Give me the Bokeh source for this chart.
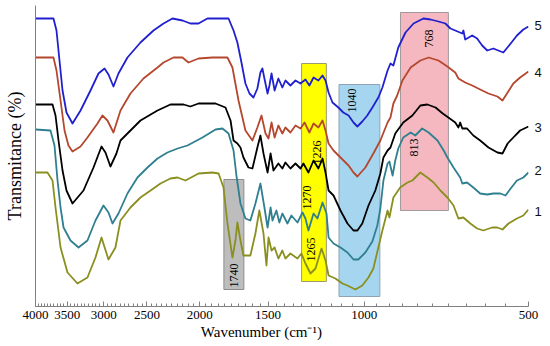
import math
from bokeh.plotting import figure
from bokeh.models import Range1d, FixedTicker, NumeralTickFormatter, ColumnDataSource, LinearAxis
from bokeh.core.properties import value
from bokeh.embed import file_html
from bokeh.resources import INLINE

# ---------------- data (wavenumber cm-1, transmittance in arbitrary stacked units) -------------
WN_1 = [4000, 3803, 3723, 3676, 3599, 3495, 3351, 3213, 3106, 3028, 2940, 2855, 2795, 2680, 2569, 2462, 2361,
        2264, 2197, 2125, 2011, 1896, 1848, 1810, 1780, 1743, 1721, 1707, 1685, 1664, 1616, 1582, 1556, 1529,
        1510, 1497, 1478, 1459, 1436, 1412, 1394, 1365, 1325, 1303, 1281, 1254, 1228, 1197, 1177, 1162, 1129,
        1096, 1073, 1038, 1008, 982, 962, 942, 926, 906, 899, 884, 859, 833, 816, 806, 789, 766, 746, 725, 704,
        686, 672, 658, 639, 621, 605, 583, 570, 558, 544, 525, 511, 500]
T_1 = [134, 134, 126, 99, 59, 34, 23, 29, 49, 69, 47, 59, 86, 99, 109, 116, 123, 128, 129, 126, 133, 134, 133,
       119, 83, 49, 66, 84, 66, 51, 51, 73, 96, 73, 41, 69, 56, 59, 48, 56, 48, 53, 48, 53, 43, 33, 38, 58, 46,
       31, 28, 23, 21, 17, 21, 29, 38, 59, 76, 96, 89, 109, 119, 124, 126, 129, 134, 129, 124, 116, 109, 101,
       88, 89, 83, 78, 76, 79, 79, 77, 83, 88, 91, 97]

WN_2 = [4000, 3755, 3692, 3645, 3599, 3554, 3451, 3336, 3213, 3106, 3003, 2940, 2891, 2819, 2714, 2602, 2494,
        2391, 2293, 2197, 2107, 1978, 1872, 1818, 1772, 1735, 1714, 1685, 1650, 1616, 1582, 1549, 1523, 1503,
        1484, 1472, 1448, 1430, 1412, 1382, 1359, 1325, 1297, 1281, 1265, 1238, 1218, 1192, 1172, 1162, 1138,
        1105, 1073, 1046, 1025, 995, 966, 946, 934, 922, 906, 899, 887, 877, 866, 848, 822, 806, 783, 762, 734,
        715, 704, 686, 667, 661, 648, 631, 613, 595, 580, 563, 551, 539, 525, 511, 500]
T_2 = [177, 176, 161, 126, 99, 79, 66, 59, 66, 86, 101, 94, 83, 93, 113, 129, 139, 148, 154, 158, 161, 169, 177,
       178, 173, 156, 131, 103, 88, 86, 103, 123, 99, 79, 99, 86, 96, 84, 93, 83, 91, 84, 94, 88, 76, 93, 88,
       104, 93, 69, 63, 59, 54, 47, 47, 54, 65, 81, 98, 126, 143, 145, 131, 146, 158, 169, 174, 171, 178, 174,
       166, 156, 149, 139, 129, 123, 124, 119, 113, 112, 113, 113, 111, 118, 126, 129, 134]

WN_3 = [4000, 3723, 3676, 3630, 3569, 3510, 3422, 3267, 3132, 3028, 2978, 2916, 2843, 2795, 2714, 2569, 2391,
        2264, 2142, 2081, 2011, 1872, 1795, 1757, 1735, 1707, 1685, 1664, 1629, 1602, 1569, 1549, 1529, 1503,
        1484, 1466, 1436, 1412, 1394, 1365, 1336, 1308, 1292, 1265, 1238, 1213, 1192, 1177, 1162, 1138, 1105,
        1073, 1046, 1029, 1008, 982, 954, 934, 922, 906, 895, 877, 848, 816, 789, 766, 740, 718, 701, 681, 672,
        667, 661, 648, 631, 613, 592, 570, 558, 546, 533, 518, 500]
T_3 = [202, 202, 191, 166, 136, 116, 103, 116, 139, 160, 154, 140, 153, 166, 173, 186, 196, 202, 202, 200, 203,
       203, 199, 186, 166, 163, 159, 149, 139, 138, 159, 171, 153, 134, 153, 136, 143, 138, 144, 138, 143, 138,
       143, 134, 146, 138, 148, 134, 116, 111, 96, 83, 76, 76, 83, 101, 116, 133, 149, 156, 159, 173, 184, 191,
       201, 202, 199, 193, 189, 184, 179, 184, 178, 178, 171, 166, 159, 154, 153, 163, 169, 176, 180]

WN_4 = [4000, 3708, 3661, 3599, 3539, 3481, 3422, 3308, 3213, 3080, 3016, 2953, 2879, 2795, 2680, 2537, 2391,
        2331, 2235, 2152, 2098, 2011, 1896, 1780, 1743, 1699, 1650, 1602, 1569, 1542, 1516, 1497, 1478, 1459,
        1436, 1412, 1394, 1365, 1336, 1308, 1286, 1260, 1238, 1213, 1192, 1177, 1162, 1138, 1105, 1068, 1046,
        1029, 995, 962, 934, 906, 895, 884, 870, 851, 822, 789, 762, 731, 704, 681, 672, 653, 634, 613, 592,
        570, 558, 546, 533, 518, 500]
T_4 = [249, 249, 236, 206, 176, 161, 155, 160, 169, 183, 191, 186, 174, 196, 213, 228, 239, 244, 249, 249, 244,
       248, 249, 249, 239, 206, 176, 166, 179, 191, 173, 168, 184, 169, 181, 173, 179, 174, 181, 178, 184, 174,
       183, 179, 186, 176, 163, 156, 149, 141, 134, 130, 139, 153, 166, 184, 189, 203, 211, 226, 239, 246, 249,
       246, 240, 234, 228, 224, 221, 217, 213, 210, 206, 214, 223, 229, 235]

WN_5 = [4000, 3708, 3661, 3615, 3569, 3510, 3422, 3308, 3172, 3067, 2990, 2940, 2879, 2819, 2714, 2569, 2432,
        2331, 2245, 2152, 2081, 2011, 1937, 1772, 1735, 1707, 1678, 1650, 1622, 1595, 1569, 1549, 1536, 1523,
        1503, 1491, 1478, 1459, 1436, 1412, 1394, 1365, 1336, 1308, 1281, 1260, 1238, 1213, 1192, 1177, 1162,
        1143, 1115, 1092, 1068, 1046, 1029, 1008, 987, 966, 942, 926, 906, 895, 884, 866, 840, 812, 779, 756,
        731, 710, 695, 681, 661, 658, 653, 634, 621, 608, 595, 580, 568, 556, 539, 525, 511, 500]
T_5 = [288, 288, 276, 246, 216, 194, 183, 196, 216, 233, 238, 232, 220, 233, 249, 264, 276, 283, 288, 286, 283,
       283, 288, 288, 276, 264, 244, 223, 213, 209, 218, 234, 238, 228, 213, 221, 233, 216, 228, 219, 226, 221,
       226, 223, 227, 221, 229, 226, 231, 226, 214, 204, 199, 194, 191, 184, 180, 185, 191, 199, 209, 219, 236,
       243, 241, 259, 274, 283, 288, 287, 285, 283, 278, 276, 273, 276, 267, 271, 268, 261, 256, 258, 256, 254,
       263, 271, 277, 280]

SERIES_NAMES = ["1", "2", "3", "4", "5"]
SERIES_LABEL_T = [95, 136, 179, 234, 281]

# highlighted bands
BAND_HI = [1807, 1302, 1112, 858]
BAND_LO = [1661, 1173, 936, 701]
BAND_TOP = [127, 243, 222, 294]
BAND_BOTTOM = [17, 25, 10, 96]

BAND_TEXT = ["1740", "1270", "1265", "1226", "1040", "768", "813"]
BAND_TEXT_WN = [1735, 1270, 1254, 1218, 1051, 762, 812]
BAND_TEXT_T = [31, 109, 57, 154, 206, 268, 159]

X_TICKS = [4000, 3500, 3000, 2500, 2000, 1500, 1000, 500]
X_TITLE = "Wavenumber (cm\u207b\u00b9)"
Y_TITLE = "Transmitance (%)"

# ---------------- styling ----------------
SERIF = "Liberation Serif"
SANS = "Liberation Sans"
LINE_COLORS = ["#8a8f1f", "#2f7f90", "#000000", "#b5472e", "#2020d0"]
BAND_FILL = ["#bdbdbd", "#ffff00", "#a6d6ef", "#f6b8c0"]
BAND_LINE = ["#8c8c8c", "#9a9a70", "#8ea4b4", "#a09a9a"]

p = figure(width=550, height=346, x_axis_type="log",
           x_range=Range1d(4000, 500), y_range=Range1d(0, 301),
           output_backend="svg", toolbar_location=None,
           min_border_left=35, min_border_right=22, min_border_top=5, min_border_bottom=40)
p.outline_line_color = None
p.xgrid.visible = False
p.ygrid.visible = False
p.background_fill_color = "white"

bands = ColumnDataSource(dict(left=BAND_HI, right=BAND_LO, top=BAND_TOP, bottom=BAND_BOTTOM,
                              fill=BAND_FILL, line=BAND_LINE))
p.quad(left="left", right="right", top="top", bottom="bottom", fill_color="fill",
       line_color="line", line_width=1, source=bands)

series = [(WN_1, T_1), (WN_2, T_2), (WN_3, T_3), (WN_4, T_4), (WN_5, T_5)]
for (wn, t), col in zip(series, LINE_COLORS):
    p.line(wn, t, line_color=col, line_width=1.8, line_join="round")

btxt = ColumnDataSource(dict(x=BAND_TEXT_WN, y=BAND_TEXT_T, text=BAND_TEXT))
p.text(x="x", y="y", text="text", source=btxt, angle=math.pi / 2,
       text_align="center", text_baseline="middle",
       text_font=value(SERIF), text_font_size="12px", text_color="black")

# x axis
xa = p.xaxis[0]
xa.ticker = FixedTicker(ticks=X_TICKS, minor_ticks=[w for w in range(550, 4000, 50) if w % 500 != 0])
xa.formatter = NumeralTickFormatter(format="0")
xa.major_tick_in = 5
xa.major_tick_out = 0
xa.minor_tick_in = 3
xa.minor_tick_out = 0
xa.axis_line_color = "#808080"
xa.major_tick_line_color = "#808080"
xa.minor_tick_line_color = "#808080"
xa.major_label_text_font = SERIF
xa.major_label_text_font_size = "13px"
xa.major_label_text_color = "black"
xa.major_label_standoff = 4
xa.axis_label = X_TITLE + "\u00a0" * 11
xa.axis_label_text_font = SERIF
xa.axis_label_text_font_size = "15px"
xa.axis_label_text_font_style = "normal"
xa.axis_label_text_color = "black"
xa.axis_label_standoff = 2

# y axis: line only
ya = p.yaxis[0]
ya.ticker = FixedTicker(ticks=[])
ya.major_label_text_font_size = "0px"
ya.major_label_standoff = 0
ya.major_tick_line_color = None
ya.minor_tick_line_color = None
ya.axis_line_color = "#808080"
ya.axis_label = Y_TITLE
ya.axis_label_text_font = SERIF
ya.axis_label_text_font_size = "18px"
ya.axis_label_text_font_style = "normal"
ya.axis_label_text_color = "black"
ya.axis_label_standoff = 11

# curve numbers on the right
ra = LinearAxis(ticker=FixedTicker(ticks=SERIES_LABEL_T),
                major_label_overrides={t: n for t, n in zip(SERIES_LABEL_T, SERIES_NAMES)})
ra.axis_line_color = None
ra.major_tick_line_color = None
ra.minor_tick_line_color = None
ra.major_tick_in = 0
ra.major_tick_out = 0
ra.minor_tick_in = 0
ra.minor_tick_out = 0
ra.major_label_standoff = 6
ra.major_label_text_font = SANS
ra.major_label_text_font_size = "13px"
ra.major_label_text_color = "#111111"
p.add_layout(ra, "right")

open("out.html", "w").write(file_html(p, INLINE))
